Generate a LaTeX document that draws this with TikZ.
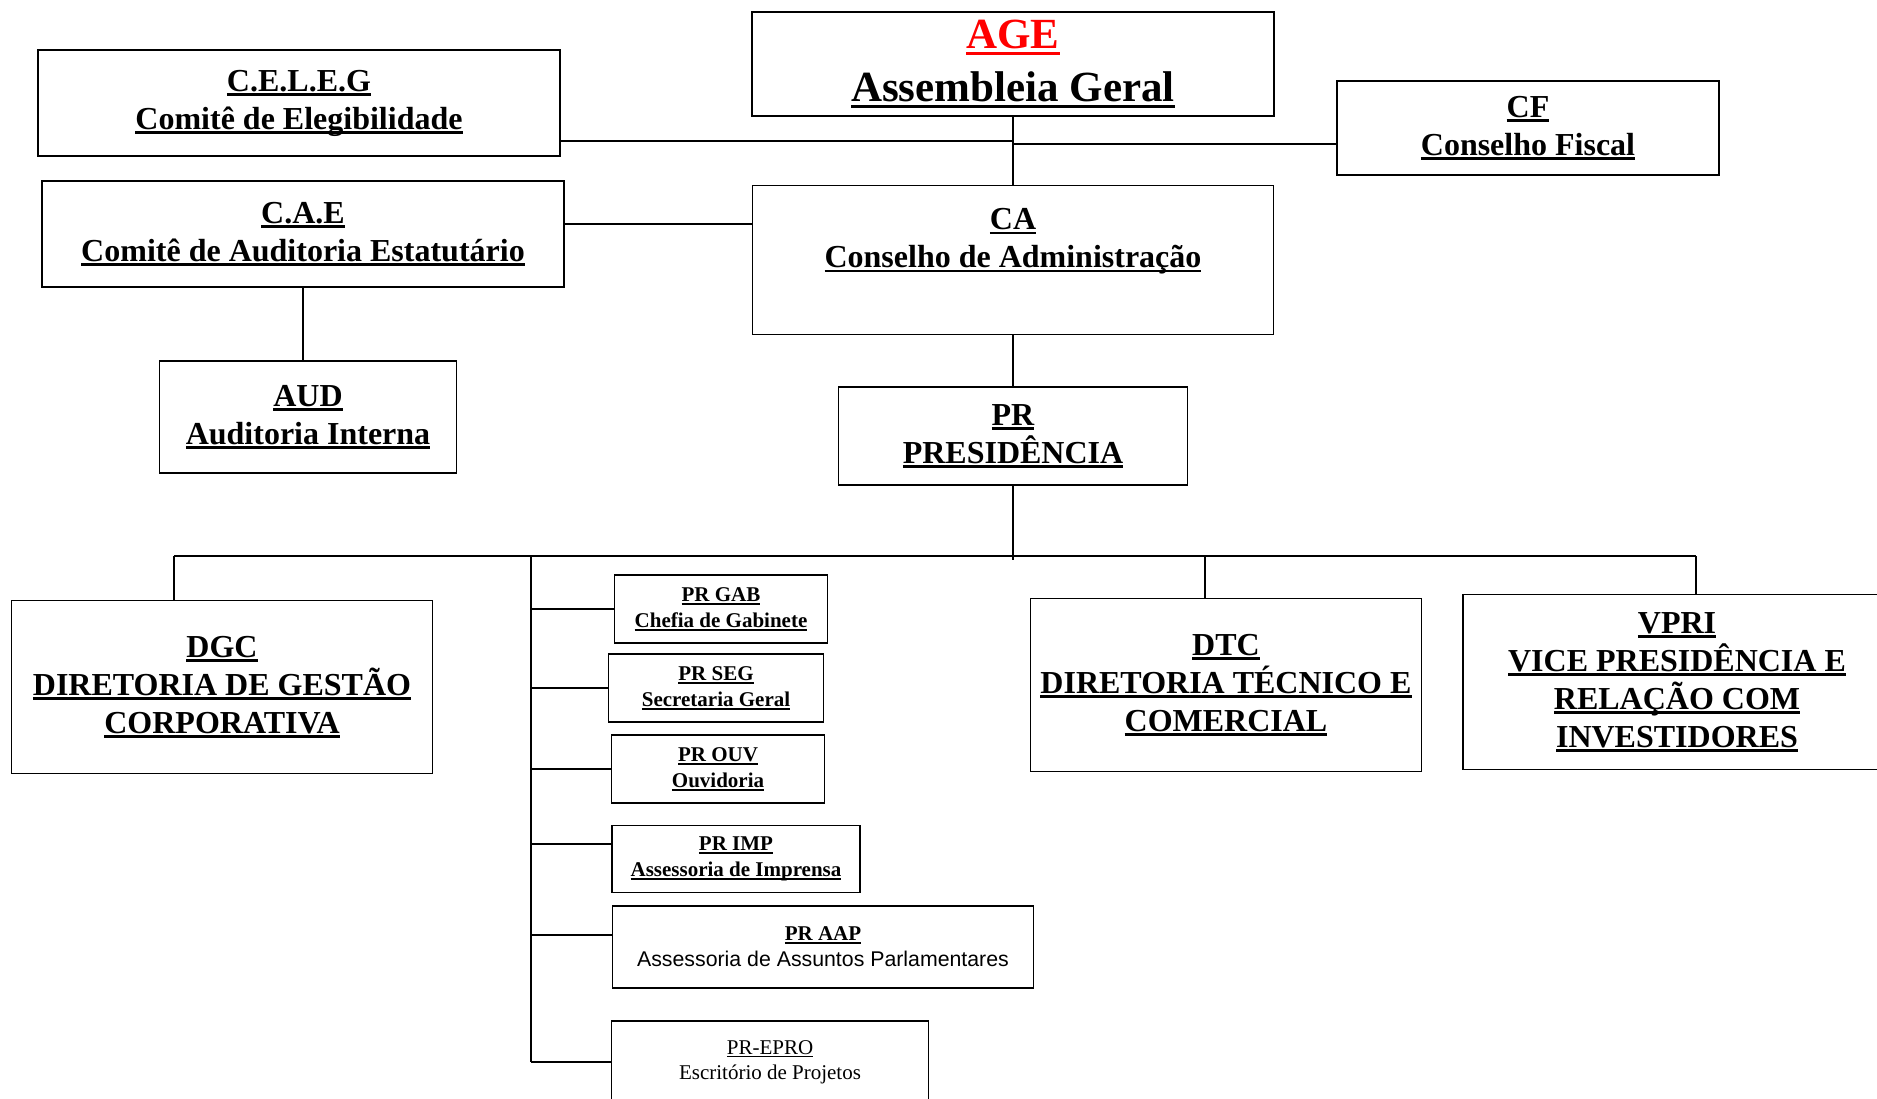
\documentclass[tikz,border=0pt]{standalone}
\usepackage{fontspec}
\setmainfont{Liberation Serif}
\newfontfamily\arialfont{Liberation Sans}
\usetikzlibrary{calc}
\def\uln#1{\setbox0=\hbox{#1}\rlap{\rule[-0.15em]{\wd0}{0.08em}}\box0}

\begin{document}
\begin{tikzpicture}[x=1pt, y=-1pt,
		unit/.style={draw, line width=1.4pt, align=center, inner sep=0pt},
		big/.style={font={\fontsize{43}{53}\selectfont\bfseries}},
		mid/.style={font={\fontsize{32}{38}\selectfont\bfseries}},
		small/.style={font={\fontsize{21}{26}\selectfont\bfseries}},
		link/.style={line width=1.2pt}]
			%%%%% START %%%%%
			
			\clip (0, 0) rectangle (1877, 1098);
			
			% conselhos
			\node[unit, big, minimum width=522pt, minimum height=104pt] (age) at (1013, 64) {\textcolor{red}{\uln{AGE}}\\\uln{Assembleia Geral}};
			\node[unit, mid, minimum width=522pt, minimum height=106pt] (celeg) at (299, 103) {\uln{C.E.L.E.G}\\\uln{Comitê de Elegibilidade}};
			\node[unit, mid, minimum width=382pt, minimum height=94pt] (cf) at (1528, 128) {\uln{CF}\\\uln{Conselho Fiscal}};
			\node[unit, mid, minimum width=522pt, minimum height=106pt] (cae) at (303, 234) {\uln{C.A.E}\\\uln{Comitê de Auditoria Estatutário}};
			\node[unit, minimum width=521pt, minimum height=149pt] (ca) at (1013, 260) {};
			\node[mid, align=center, inner sep=0pt] (catext) at (1013, 241) {\uln{CA}\\\uln{Conselho de Administração}};
			\node[unit, mid, minimum width=297pt, minimum height=112pt] (aud) at (308, 417) {\uln{AUD}\\\uln{Auditoria Interna}};
			\node[unit, mid, minimum width=349pt, minimum height=98pt] (pr) at (1013, 436) {\uln{PR}\\\uln{PRESIDÊNCIA}};
			
			% diretorias
			\node[unit, mid, minimum width=421pt, minimum height=173pt] (dgc) at (222, 687) {\uln{DGC}\\\uln{DIRETORIA DE GESTÃO}\\\uln{CORPORATIVA}};
			\node[unit, mid, minimum width=391pt, minimum height=173pt] (dtc) at (1226, 685) {\uln{DTC}\\\uln{DIRETORIA TÉCNICO E}\\\uln{COMERCIAL}};
			\node[unit, mid, minimum width=428pt, minimum height=175pt] (vpri) at (1677, 682) {\uln{VPRI}\\\uln{VICE PRESIDÊNCIA E}\\\uln{RELAÇÃO COM}\\\uln{INVESTIDORES}};
			
			% assessorias da presidencia
			\node[unit, small, minimum width=213pt, minimum height=68pt] (gab) at (721, 609) {\uln{PR GAB}\\\uln{Chefia de Gabinete}};
			\node[unit, small, minimum width=215pt, minimum height=68pt] (seg) at (716, 688) {\uln{PR SEG}\\\uln{Secretaria Geral}};
			\node[unit, small, minimum width=213pt, minimum height=68pt] (ouv) at (718, 769) {\uln{PR OUV}\\\uln{Ouvidoria}};
			\node[unit, small, minimum width=248pt, minimum height=67pt] (imp) at (736, 859) {\uln{PR IMP}\\\uln{Assessoria de Imprensa}};
			\node[unit, small, minimum width=421pt, minimum height=82pt] (aap) at (823, 947) {\uln{PR AAP}\\{\arialfont\mdseries\fontsize{21.3}{26}\selectfont Assessoria de Assuntos Parlamentares}};
			\node[unit, font={\fontsize{21}{25}\selectfont}, minimum width=317pt, minimum height=82pt] (epro) at (770, 1062) {\uln{PR-EPRO}\\Escritório de Projetos};
			
			% ligacoes
			\coordinate (jn) at (1013, 141);
			\coordinate (jn2) at (1013, 144);
			\draw[link] (age.south) -- (ca.north);
			\draw[link] (celeg.east |- jn) -- (jn);
			\draw[link] (jn2) -- (cf.west |- jn2);
			\draw[link] ($(cae.east)+(0,-10)$) -- ($(ca.west)+(0,-36)$);
			\draw[link] (cae.south) -- (cae.south |- aud.north);
			\draw[link] (ca.south) -- (pr.north);
			
			\coordinate (busl) at (174, 556);
			\coordinate (busd) at (1205, 556);
			\coordinate (busr) at (1696, 556);
			\draw[link] (pr.south) -- ($(pr.south |- busl)+(0,4)$);
			\draw[link] (busl) -- (busr);
			\draw[link] (busl) -- (busl |- dgc.north);
			\draw[link] (busd) -- (busd |- dtc.north);
			\draw[link] (busr) -- (busr |- vpri.north);
			
			\coordinate (subt) at (531, 556);
			\coordinate (subb) at (531, 1062);
			\draw[link] (subt) -- (subb);
			\draw[link] (subt |- gab.west) -- (gab.west);
			\draw[link] (subt |- seg.west) -- (seg.west);
			\draw[link] (subt |- ouv.west) -- (ouv.west);
			\draw[link] ($(subt |- imp.west)+(0,-15)$) -- ($(imp.west)+(0,-15)$);
			\draw[link] ($(subt |- aap.west)+(0,-12)$) -- ($(aap.west)+(0,-12)$);
			\draw[link] (subb) -- (epro.west);
			
			%%%%% END %%%%%
\end{tikzpicture}
\end{document}
